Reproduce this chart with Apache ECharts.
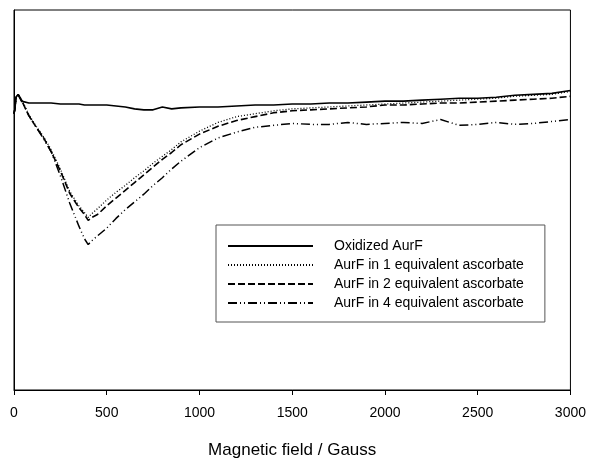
<!DOCTYPE html>
<html>
<head>
<meta charset="utf-8">
<script src="https://cdn.jsdelivr.net/npm/echarts@6/dist/echarts.min.js"></script>
<style>
  html, body { margin: 0; padding: 0; background: #fff; }
  #chart { width: 589px; height: 464px; }
</style>
</head>
<body>
<div id="chart"></div>
<script>
// field points (Gauss) shared by all spectra
var field = [0, 5, 11, 22, 40, 80, 120, 160, 200, 250, 300, 350, 380, 400, 420, 450, 500, 550, 600, 650,
  700, 750, 800, 850, 900, 1000, 1100, 1200, 1300, 1400, 1500, 1600, 1700, 1800, 1900, 2000,
  2100, 2200, 2300, 2400, 2500, 2600, 2700, 2800, 2900, 3000];

// signal, arbitrary units
var oxidized = [-2, 3, 15, 18, 11, 9, 9, 9, 9, 8, 8, 8, 7, 7, 7, 7, 7, 6, 5, 3,
  2, 2, 5, 3, 4, 5, 5, 6, 7, 7, 8, 8, 9, 9, 10, 11,
  11, 12, 13, 14, 14, 15, 17, 18, 19, 22];
var eq1 = [-2, 3, 15, 18, 13, -3, -15, -26, -39, -59, -82, -97, -104, -109, -105, -100, -91, -83, -76, -68,
  -61, -53, -46, -39, -31, -20, -11, -5, -2, 1, 3, 4, 5, 6, 7, 8,
  9, 10, 11, 12, 13, 14, 16, 17, 18, 21];
var eq2 = [-2, 3, 15, 18, 12, -4, -16, -27, -41, -61, -84, -99, -106, -112, -109, -106, -97, -89, -81, -73,
  -65, -57, -49, -42, -34, -23, -15, -9, -5, -1, 1, 2, 3, 4, 5, 7,
  7, 8, 9, 9, 10, 11, 12, 13, 14, 16];
var eq4 = [-2, 3, 15, 18, 12, -4, -16, -28, -41, -66, -94, -118, -131, -137, -133, -128, -120, -110, -101, -93,
  -85, -76, -68, -59, -51, -37, -27, -21, -16, -14, -12, -13, -13, -11, -13, -12,
  -11, -12, -8, -14, -13, -11, -13, -12, -10, -8];

var seriesNames = ['Oxidized AurF', 'AurF in 1 equivalent ascorbate',
  'AurF in 2 equivalent ascorbate', 'AurF in 4 equivalent ascorbate'];
var xTicks = [0, 500, 1000, 1500, 2000, 2500, 3000];

function pairs(ys) {
  return field.map(function (x, i) { return [x, ys[i]]; });
}

var chart = echarts.init(document.getElementById('chart'));

var styles = [
  { type: 'solid', width: 1.6 },
  { type: [1, 2], width: 1.3 },
  { type: [7, 3], width: 1.6 },
  { type: [9, 3, 1, 3, 1, 3], width: 1.5 }
];
var values = [oxidized, eq1, eq2, eq4];

var series = seriesNames.map(function (name, i) {
  return {
    name: name,
    type: 'line',
    symbol: 'none',
    data: pairs(values[i]),
    lineStyle: { color: '#000', type: styles[i].type, width: styles[i].width },
    itemStyle: { color: '#000' },
    z: 4 - i
  };
});

var option = {
  backgroundColor: '#fff',
  animation: false,
  grid: {
    left: 14, right: 17, top: 10, bottom: 62,
    show: true, borderColor: '#000', borderWidth: 1
  },
  legend: {
    orient: 'vertical',
    left: 216, top: 225,
    data: seriesNames,
    itemWidth: 85, itemHeight: 14, itemGap: 5,
    padding: [14, 21, 12, 11],
    borderColor: '#555', borderWidth: 1,
    backgroundColor: '#fff',
    itemStyle: { opacity: 0 },
    textStyle: { color: '#000', fontSize: 14, fontFamily: 'Liberation Sans', padding: [0, 0, 0, 16] }
  },
  xAxis: {
    type: 'value',
    min: 0, max: 3000, interval: 500,
    name: 'Magnetic field / Gauss',
    nameLocation: 'middle',
    nameGap: 52,
    nameTextStyle: { color: '#000', fontSize: 17, fontFamily: 'Liberation Sans' },
    axisLine: { onZero: false, lineStyle: { color: '#000', width: 1 } },
    axisTick: { inside: false, length: 5, lineStyle: { color: '#000' } },
    axisLabel: {
      color: '#000', fontSize: 14, fontFamily: 'Liberation Sans', margin: 16,
      formatter: function (v) { return xTicks.indexOf(v) >= 0 ? String(v) : ''; }
    },
    splitLine: { show: false }
  },
  yAxis: {
    type: 'value',
    min: -287, max: 105,
    axisLine: { show: true, onZero: false, lineStyle: { color: '#000' } },
    axisTick: { show: false },
    axisLabel: { show: false },
    splitLine: { show: false }
  },
  series: series
};

chart.setOption(option);
</script>
</body>
</html>
